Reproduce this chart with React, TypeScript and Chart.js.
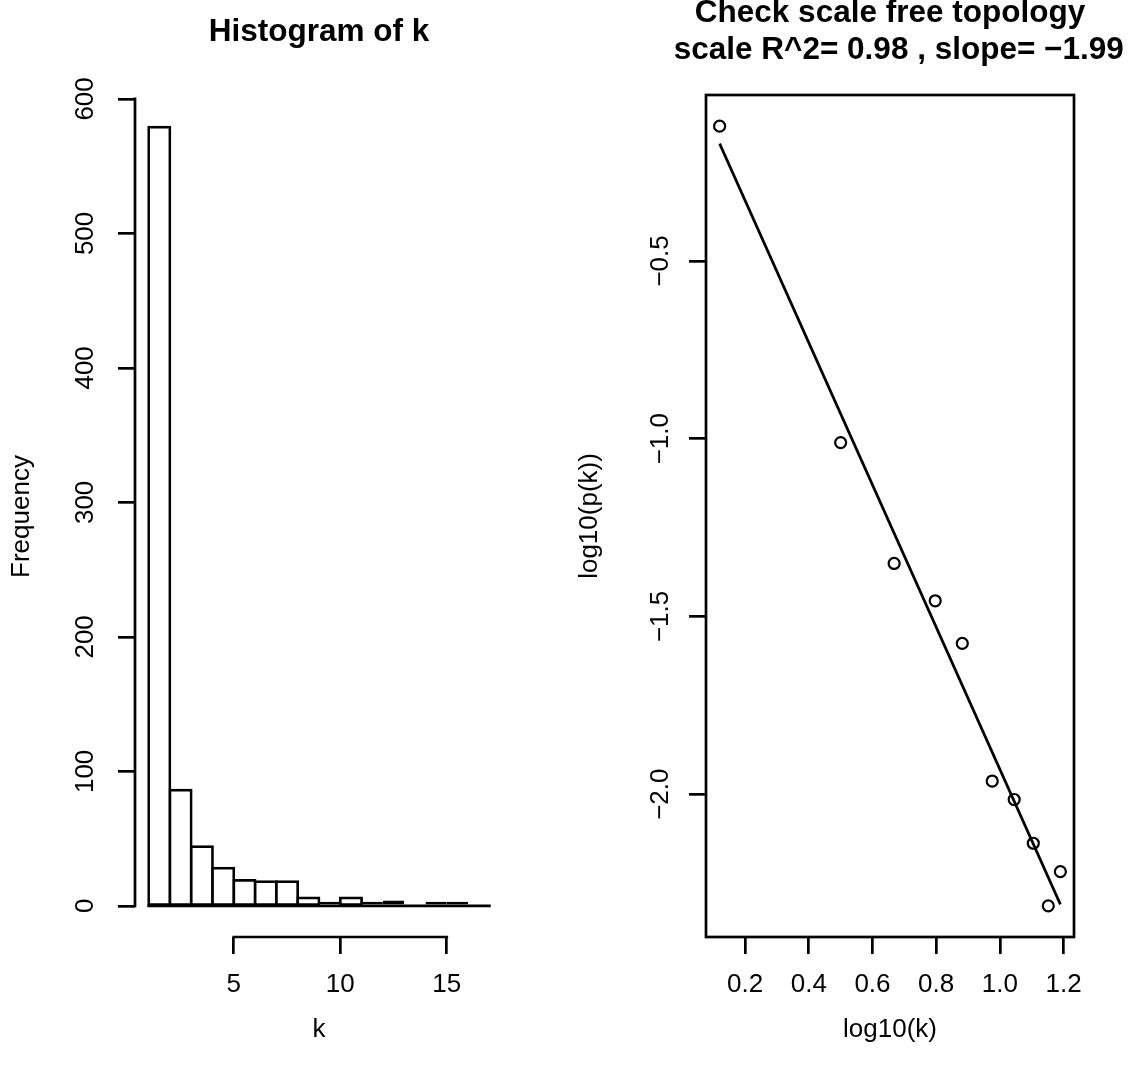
import React, { useEffect, useRef } from "react";
import { Chart, registerables } from "chart.js";

Chart.register(...registerables);

// ---------- data: histogram of k ----------
const histBreaks = [1, 2, 3, 4, 5, 6, 7, 8, 9, 10, 11, 12, 13, 14, 15, 16, 17];
const histCounts = [579, 86, 44, 28, 19, 18, 18, 6, 3, 6, 3, 4, 1, 3, 3, 1];
const histXTicks = [5, 10, 15];
const histYTicks = [0, 100, 200, 300, 400, 500, 600];

// ---------- data: scale free topology ----------
const logK = [0.12, 0.5, 0.668, 0.797, 0.882, 0.976, 1.045, 1.105, 1.152, 1.19];
const logPk = [-0.121, -1.011, -1.351, -1.456, -1.576, -1.963, -2.015, -2.138, -2.314, -2.218];
const fitLogK = [0.12, 1.19];
const fitLogPk = [-0.17, -2.31];
const sfXTicks = [0.2, 0.4, 0.6, 0.8, 1.0, 1.2];
const sfYTicks = [-0.5, -1.0, -1.5, -2.0];

// ---------- text ----------
const histTitle = "Histogram of k";
const histXLabel = "k";
const histYLabel = "Frequency";
const sfTitle = ["Check scale free topology", "  scale R^2= 0.98 , slope= \u22121.99"];
const sfXLabel = "log10(k)";
const sfYLabel = "log10(p(k))";

const FONT = '"Liberation Sans", Arial, Helvetica, sans-serif';
const W = 565;
const H = 1072;
const LW = 2.7;
const TICK_FONT = 26;
const LAB_FONT = 26;
const TITLE_FONT = 31.5;

function rRange(vals: number[]) {
  const lo = Math.min(...vals);
  const hi = Math.max(...vals);
  const d = (hi - lo) * 0.04;
  return { min: lo - d, max: hi + d };
}

const minus = (s: string) => s.replace("-", "\u2212");

function drawText(ctx: CanvasRenderingContext2D, text: string, x: number, y: number, size: number, bold: boolean, rot = 0) {
  ctx.save();
  ctx.translate(x, y);
  if (rot) ctx.rotate(rot);
  ctx.font = `${bold ? "bold " : ""}${size}px ${FONT}`;
  ctx.fillStyle = "#000";
  ctx.textAlign = "center";
  ctx.textBaseline = "middle";
  ctx.fillText(text, 0, 0);
  ctx.restore();
}

function axisCommon(ticks: number[], fitSize: (s: any) => void, tickOpts: any) {
  return {
    type: "linear" as const,
    offset: false,
    afterBuildTicks: (s: any) => {
      s.ticks = ticks.map((v) => ({ value: v }));
    },
    afterFit: fitSize,
    grid: {
      display: true,
      drawOnChartArea: false,
      drawTicks: true,
      tickLength: 17,
      color: "#000",
      lineWidth: LW,
      offset: false,
    },
    border: { display: false },
    ticks: {
      color: "#000",
      autoSkip: false,
      font: { size: TICK_FONT, family: FONT },
      ...tickOpts,
    },
  };
}

function HistChart() {
  const ref = useRef<HTMLCanvasElement>(null);
  useEffect(() => {
    const canvas = ref.current!;
    const area = { left: 135, right: 503, top: 96, bottom: 937 };
    const xr = rRange([histBreaks[0], histBreaks[histBreaks.length - 1]]);
    const yr = rRange([0, Math.max(...histCounts)]);
    const bars = histCounts.map((c, i) => ({ x: (histBreaks[i] + histBreaks[i + 1]) / 2, y: c }));
    const deco = {
      id: "histDeco",
      afterDatasetsDraw(chart: any) {
        // common baseline of the rectangles (bottom edges at 0)
        const ctx = chart.ctx as CanvasRenderingContext2D;
        const xs = chart.scales.x;
        const ys = chart.scales.y;
        ctx.save();
        ctx.strokeStyle = "#000";
        ctx.lineWidth = LW;
        ctx.lineCap = "square";
        ctx.beginPath();
        ctx.moveTo(xs.getPixelForValue(histBreaks[0]), ys.getPixelForValue(0));
        ctx.lineTo(xs.getPixelForValue(histBreaks[histBreaks.length - 1]), ys.getPixelForValue(0));
        ctx.stroke();
        ctx.restore();
      },
      afterDraw(chart: any) {
        const ctx = chart.ctx as CanvasRenderingContext2D;
        const xs = chart.scales.x;
        const ys = chart.scales.y;
        const ca = chart.chartArea;
        ctx.save();
        ctx.strokeStyle = "#000";
        ctx.lineWidth = LW;
        ctx.lineCap = "square";
        ctx.beginPath();
        ctx.moveTo(ca.left, ys.getPixelForValue(histYTicks[0]));
        ctx.lineTo(ca.left, ys.getPixelForValue(histYTicks[histYTicks.length - 1]));
        ctx.moveTo(xs.getPixelForValue(histXTicks[0]), ca.bottom);
        ctx.lineTo(xs.getPixelForValue(histXTicks[histXTicks.length - 1]), ca.bottom);
        ctx.stroke();
        ctx.restore();
        const cx = (ca.left + ca.right) / 2;
        drawText(ctx, histTitle, cx, 32, TITLE_FONT, true);
        drawText(ctx, histXLabel, cx, 1030, LAB_FONT, false);
        drawText(ctx, histYLabel, 22, (ca.top + ca.bottom) / 2, LAB_FONT, false, -Math.PI / 2);
      },
    };
    const chart = new Chart(canvas, {
      type: "bar",
      data: {
        datasets: [
          {
            data: bars as any,
            backgroundColor: "#fff",
            borderColor: "#000",
            borderWidth: LW,
            borderSkipped: false,
            inflateAmount: (c: any) => {
              const ys = c.chart.scales.y;
              if (!ys || c.dataIndex === undefined) return 0;
              const h = Math.abs(ys.getPixelForValue(0) - ys.getPixelForValue(histCounts[c.dataIndex]));
              return h > 2 * LW + 1 ? LW / 2 : 0;
            },
            barPercentage: 1,
            categoryPercentage: 1,
          } as any,
        ],
      },
      options: {
        responsive: false,
        animation: false,
        devicePixelRatio: 1,
        layout: { padding: { left: 0, top: area.top, right: W - area.right, bottom: 0 } },
        plugins: { legend: { display: false }, tooltip: { enabled: false } },
        scales: {
          x: {
            ...axisCommon(histXTicks, (s: any) => { s.height = H - area.bottom; }, { padding: 15, maxRotation: 0, callback: (v: any) => String(v) }),
            min: xr.min,
            max: xr.max,
          },
          y: {
            ...axisCommon(histYTicks, (s: any) => { s.width = area.left; }, { padding: 10, minRotation: 90, maxRotation: 90, crossAlign: "center", callback: (v: any) => String(v) }),
            min: yr.min,
            max: yr.max,
          },
        } as any,
      },
      plugins: [deco],
    });
    return () => chart.destroy();
  }, []);
  return <canvas ref={ref} width={W} height={H} style={{ position: "absolute", left: 0, top: 0 }} />;
}

function ScaleFreeChart() {
  const ref = useRef<HTMLCanvasElement>(null);
  useEffect(() => {
    const canvas = ref.current!;
    const area = { left: 141, right: 509, top: 95, bottom: 937 };
    const xr = rRange(logK);
    const yr = rRange(logPk);
    const pts = logK.map((x, i) => ({ x, y: logPk[i] }));
    const fit = fitLogK.map((x, i) => ({ x, y: fitLogPk[i] }));
    const deco = {
      id: "sfDeco",
      afterDraw(chart: any) {
        const ctx = chart.ctx as CanvasRenderingContext2D;
        const ca = chart.chartArea;
        ctx.save();
        ctx.strokeStyle = "#000";
        ctx.lineWidth = LW;
        ctx.strokeRect(ca.left, ca.top, ca.right - ca.left, ca.bottom - ca.top);
        ctx.restore();
        const cx = (ca.left + ca.right) / 2;
        drawText(ctx, sfTitle[0], cx, 13.5, TITLE_FONT, true);
        drawText(ctx, sfTitle[1], cx, 50.5, TITLE_FONT, true);
        drawText(ctx, sfXLabel, cx, 1030, LAB_FONT, false);
        drawText(ctx, sfYLabel, 25, (ca.top + ca.bottom) / 2, LAB_FONT, false, -Math.PI / 2);
      },
    };
    const chart = new Chart(canvas, {
      type: "scatter",
      data: {
        datasets: [
          {
            data: pts,
            pointStyle: "circle",
            pointRadius: 5.5,
            pointBorderWidth: 2.2,
            pointBorderColor: "#000",
            pointBackgroundColor: "rgba(0,0,0,0)",
            showLine: false,
          } as any,
          {
            data: fit,
            showLine: true,
            borderColor: "#000",
            borderWidth: LW,
            pointRadius: 0,
            fill: false,
          } as any,
        ],
      },
      options: {
        responsive: false,
        animation: false,
        devicePixelRatio: 1,
        layout: { padding: { left: 0, top: area.top, right: W - area.right, bottom: 0 } },
        plugins: { legend: { display: false }, tooltip: { enabled: false } },
        scales: {
          x: {
            ...axisCommon(sfXTicks, (s: any) => { s.height = H - area.bottom; }, { padding: 15, maxRotation: 0, callback: (v: any) => Number(v).toFixed(1) }),
            min: xr.min,
            max: xr.max,
          },
          y: {
            ...axisCommon(sfYTicks, (s: any) => { s.width = area.left; }, { padding: 2.5, minRotation: 90, maxRotation: 90, crossAlign: "center", callback: (v: any) => minus(Number(v).toFixed(1)) }),
            min: yr.min,
            max: yr.max,
          },
        } as any,
      },
      plugins: [deco],
    });
    return () => chart.destroy();
  }, []);
  return <canvas ref={ref} width={W} height={H} style={{ position: "absolute", left: W, top: 0 }} />;
}

export default function App() {
  return (
    <div style={{ position: "absolute", left: 0, top: 0, width: 1130, height: 1072, background: "#fff", overflow: "hidden" }}>
      <HistChart />
      <ScaleFreeChart />
    </div>
  );
}
